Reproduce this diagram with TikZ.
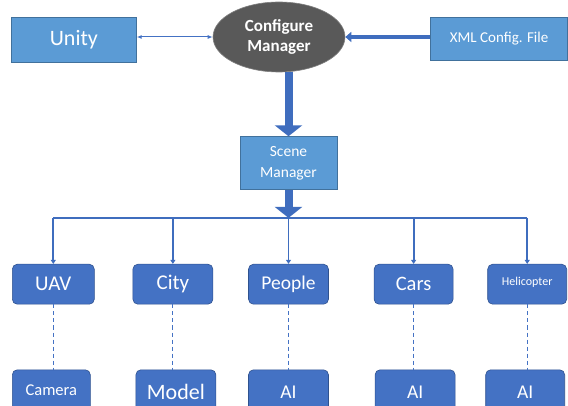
\documentclass[tikz,border=0pt]{standalone}
\usepackage{fontspec}
\setmainfont{Carlito}
\usepackage{tikz}
\usetikzlibrary{positioning,shapes,arrows.meta}

\definecolor{lightbox}{HTML}{5B9BD5}
\definecolor{lightedge}{HTML}{41719C}
\definecolor{darkbox}{HTML}{4472C4}
\definecolor{darkedge}{HTML}{2F528F}
\definecolor{mgrgray}{HTML}{595959}
\definecolor{arrowblue}{HTML}{3F6DBE}

\newcommand{\fs}[2]{\fontsize{#1}{#2}\selectfont}

\tikzset{
    lightnode/.style={rectangle,fill=lightbox,draw=lightedge,line width=0.6pt,
        text=white,inner sep=0pt,align=center},
    darknode/.style={rectangle,rounded corners=5pt,fill=darkbox,draw=darkedge,line width=0.6pt,
        text=white,inner sep=0pt,align=center,minimum height=40pt},
    mgrnode/.style={ellipse,fill=mgrgray,draw=gray,line width=0.6pt,text=white,
        inner sep=0pt,minimum width=132pt,minimum height=70pt,align=center},
    fatarrow/.style={draw=arrowblue,line width=8pt,-{Triangle[width=27pt,length=11pt]}},
    thinarrow/.style={draw=arrowblue,line width=4.5pt,-{Triangle[width=10pt,length=6pt]}},
    droparrow/.style={draw=arrowblue,line width=1.8pt,-{Triangle[width=5pt,length=4pt]}},
    busline/.style={draw=arrowblue,line width=1.6pt},
    link/.style={draw=darkbox,line width=0.9pt,dash pattern=on 4pt off 3pt}
}

\begin{document}
\begin{tikzpicture}
    \useasboundingbox (0,0) rectangle (568pt,-406pt);

    \node[mgrnode,font=\bfseries\fs{17}{20.7}] (cfg) at (279pt,-37pt) {Configure\\Manager};
    \node[lightnode,minimum width=125pt,minimum height=45pt,left=76pt of cfg,yshift=-2.5pt,
        font=\fs{22}{26}] (unity) {Unity};
    \node[lightnode,minimum width=137pt,minimum height=43pt,right=85pt of cfg,yshift=-1.5pt,
        font=\fs{15}{18}] (xml) {XML Config. File};
    \node[lightnode,minimum width=97pt,minimum height=53pt,below=64pt of cfg,xshift=9.5pt,
        font=\fs{15.5}{20.7}] (scn) {Scene\\Manager};
    \coordinate[below=28pt of scn] (bus);

    % middle row
    \node[darknode,minimum width=80pt,below=74pt of scn,font=\fs{19.5}{23}] (people) {People};
    \node[darknode,minimum width=80pt,left=35pt of people,font=\fs{21}{25}] (city) {City};
    \node[darknode,minimum width=82pt,left=38pt of city,font=\fs{21}{25}] (uav) {UAV};
    \node[darknode,minimum width=79pt,right=45pt of people,font=\fs{20.5}{24}] (cars) {Cars};
    \node[darknode,minimum width=79pt,right=34pt of cars,font=\fs{12}{14}] (heli)
        {\raisebox{5pt}{Helicopter}};

    % bottom row
    \node[darknode,minimum width=78pt,minimum height=45pt,below=65pt of uav,xshift=-2pt,
        font=\fs{16.5}{19}] (cam) {\raisebox{4pt}{Camera}};
    \node[darknode,minimum width=80pt,minimum height=45pt,below=65pt of city,xshift=3pt,
        font=\fs{22}{26}] (mdl) {\raisebox{1pt}{Model}};
    \node[darknode,minimum width=80pt,minimum height=45pt,below=65pt of people,
        font=\fs{19.5}{23}] (ai1) {\raisebox{1pt}{AI}};
    \node[darknode,minimum width=80pt,minimum height=45pt,below=65pt of cars,xshift=1.5pt,
        font=\fs{19.5}{23}] (ai2) {\raisebox{1pt}{AI}};
    \node[darknode,minimum width=79pt,minimum height=45pt,below=65pt of heli,xshift=-2pt,
        font=\fs{19.5}{23}] (ai3) {\raisebox{1pt}{AI}};

    \draw[draw=darkbox,line width=1pt,{Latex[length=5pt,width=4pt]}-{Latex[length=5pt,width=4pt]}]
        (unity.east |- cfg) -- (cfg.west);
    \draw[thinarrow] (xml.west |- cfg) -- (cfg.east);
    \draw[fatarrow] (cfg.south -| scn.north) -- (scn.north);
    \draw[busline] (uav.north |- bus) -- (heli.north |- bus);
    \draw[fatarrow] (scn.south) -- (bus);

    \foreach \n in {uav,city,people,cars,heli}
        \draw[droparrow] (\n.north |- bus) -- (\n.north);

    \foreach \u / \v in {uav/cam,city/mdl,people/ai1,cars/ai2,heli/ai3}
        \draw[link] (\u.south) -- (\u.south |- \v.north);
\end{tikzpicture}
\end{document}
